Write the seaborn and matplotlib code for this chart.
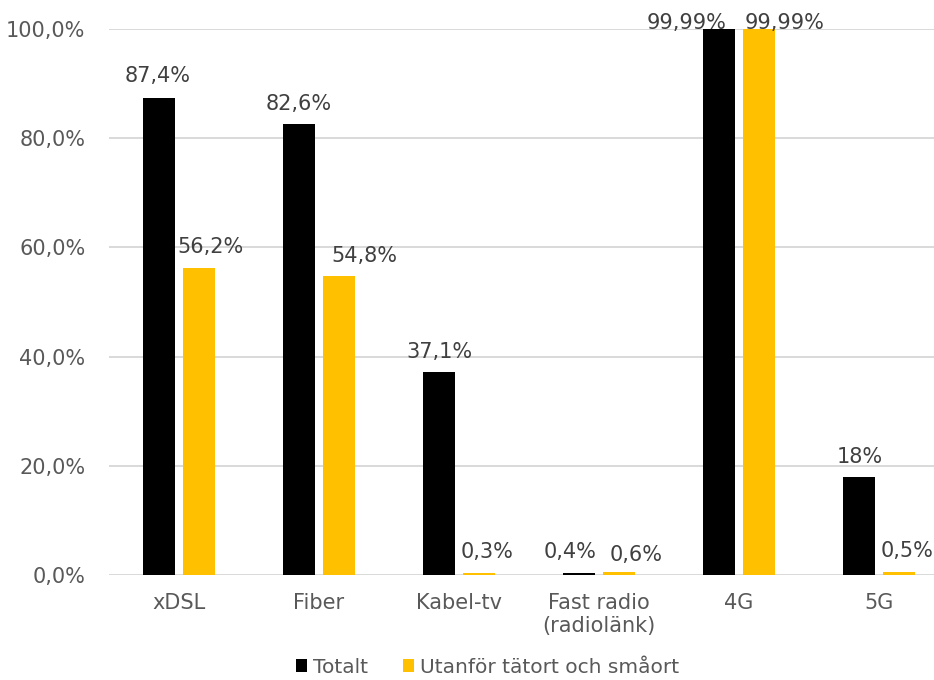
import matplotlib
matplotlib.use("Agg")
import matplotlib.pyplot as plt
import seaborn as sns
import pandas as pd
from matplotlib.patches import Patch

categories = ["xDSL", "Fiber", "Kabel-tv", "Fast radio\n(radiolänk)", "4G", "5G"]
series_names = ["Totalt", "Utanför tätort och småort"]
totalt = [87.4, 82.6, 37.1, 0.4, 99.99, 18]
utanfor = [56.2, 54.8, 0.3, 0.6, 99.99, 0.5]
totalt_labels = ["87,4%", "82,6%", "37,1%", "0,4%", "99,99%", "18%"]
utanfor_labels = ["56,2%", "54,8%", "0,3%", "0,6%", "99,99%", "0,5%"]
y_ticks = [0, 20, 40, 60, 80, 100]
y_ticklabels = ["0,0%", "20,0%", "40,0%", "60,0%", "80,0%", "100,0%"]

colors = ["#000000", "#FFC000"]
label_color = "#404040"
axis_color = "#595959"
fs = 15

# hand-placed label offsets (pixels) relative to each bar's top centre
label_dx = [[-1, 0, 0, -9, -32, 1], [11, 25, 8, 17, 26, 8]]
label_dy = [[22, 20, 20, 21, 6, 20], [21, 20, 21, 17, 6, 21]]

df = pd.DataFrame({
    "kategori": categories * 2,
    "serie": [series_names[0]] * len(categories) + [series_names[1]] * len(categories),
    "andel": totalt + utanfor,
})

sns.set_style("white")
plt.rcParams["font.family"] = ["DejaVu Sans"]

fig = plt.figure(figsize=(9.34, 6.8), dpi=100)
ax = fig.add_axes([109 / 934, 105 / 680, 840 / 934, 546 / 680])

sns.barplot(data=df, x="kategori", y="andel", hue="serie", order=categories,
            hue_order=series_names, palette=colors, width=0.572, gap=0.2,
            saturation=1, legend=False, ax=ax, errorbar=None, linewidth=0)

px = 72 / fig.dpi
for container, labels, dxs, dys in zip(ax.containers, [totalt_labels, utanfor_labels],
                                       label_dx, label_dy):
    for bar, lab, dx, dy in zip(container, labels, dxs, dys):
        ax.annotate(lab, xy=(bar.get_x() + bar.get_width() / 2, bar.get_height()),
                    xytext=(dx * px, dy * px), textcoords="offset points",
                    ha="center", va="center", fontsize=fs, color=label_color,
                    annotation_clip=False)

ax.set_xlim(-0.5, 5.5)
ax.set_ylim(0, 100)
ax.set_yticks(y_ticks)
ax.set_yticklabels(y_ticklabels)
ax.set_xlabel("")
ax.set_ylabel("")
ax.yaxis.grid(True, color="#D9D9D9", linewidth=1.4)
ax.set_axisbelow(True)
for s in ax.spines.values():
    s.set_visible(False)
ax.tick_params(axis="both", length=0, labelsize=fs, labelcolor=axis_color)
ax.tick_params(axis="x", pad=13)
ax.tick_params(axis="y", pad=17)

handles = [Patch(facecolor=c, edgecolor="none") for c in colors]
fig.legend(handles, series_names, loc="center", bbox_to_anchor=(0.522, 0.019),
           ncol=2, frameon=False, fontsize=14.5, labelcolor=axis_color,
           handlelength=0.55, handleheight=0.55, handletextpad=0.3, columnspacing=1.7)

fig.savefig("out.png", dpi=100)
